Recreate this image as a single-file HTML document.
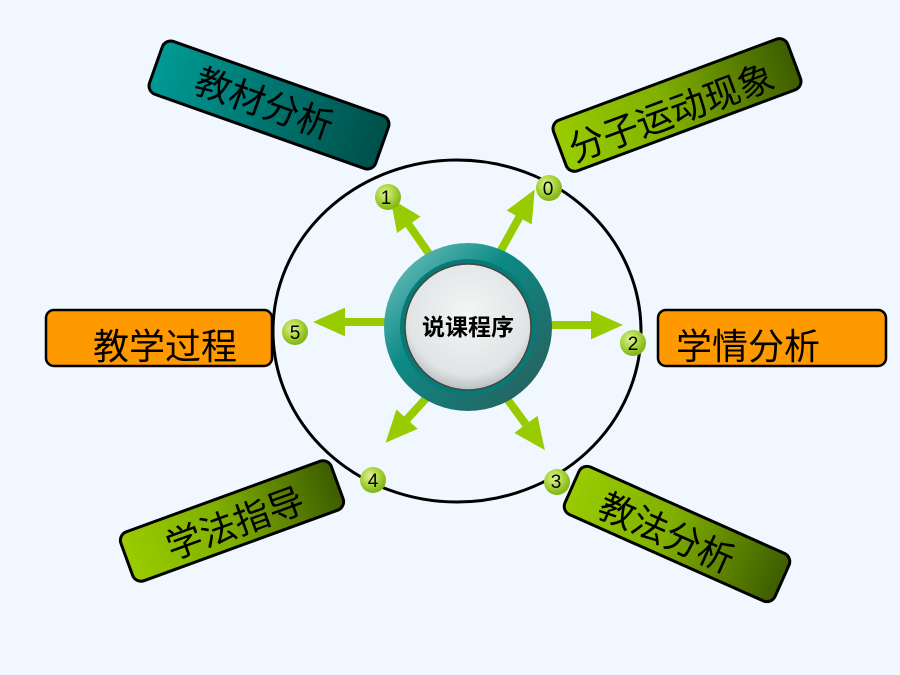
<!DOCTYPE html>
<html><head><meta charset="utf-8"><style>
html,body{margin:0;padding:0;background:#f0f7ff;}
svg{display:block}
text{font-family:"Liberation Sans","Noto Sans CJK SC",sans-serif;}
</style></head><body>
<svg width="900" height="675" viewBox="0 0 900 675" xmlns="http://www.w3.org/2000/svg">
<defs>
<linearGradient id="teal" x1="0" y1="0" x2="1" y2="0"><stop offset="0" stop-color="#009a94"/><stop offset="1" stop-color="#004f4a"/></linearGradient>
<linearGradient id="grn" x1="0" y1="0" x2="1" y2="0"><stop offset="0" stop-color="#99cc00"/><stop offset="0.45" stop-color="#80b000"/><stop offset="1" stop-color="#3d5c00"/></linearGradient>
<linearGradient id="ring" x1="0" y1="0" x2="1" y2="1"><stop offset="0" stop-color="#7cc8c4"/><stop offset="0.4" stop-color="#0c8a85"/><stop offset="1" stop-color="#2c5a58"/></linearGradient>
<radialGradient id="inner" cx="0.5" cy="0.4" r="0.6"><stop offset="0" stop-color="#f4f6f6"/><stop offset="0.8" stop-color="#e0e4e4"/><stop offset="1" stop-color="#b8c0c0"/></radialGradient>
<radialGradient id="ball" cx="0.4" cy="0.35" r="0.6"><stop offset="0" stop-color="#e2f29a"/><stop offset="0.6" stop-color="#a8d43a"/><stop offset="1" stop-color="#86b81a"/></radialGradient>
<marker id="ah" markerWidth="4" markerHeight="4" refX="1.5" refY="2" orient="auto" markerUnits="strokeWidth"><path d="M0,0.2 L4,2 L0,3.8 Z" fill="#99cc00"/></marker>
</defs>

<ellipse cx="457" cy="331" rx="184" ry="171" fill="none" stroke="#000" stroke-width="3"/>

<g stroke="#99cc00" stroke-width="8" fill="none" marker-end="url(#ah)">
<line x1="432" y1="258" x2="402" y2="215"/>
<line x1="500" y1="252" x2="525" y2="207"/>
<line x1="550" y1="325" x2="603" y2="325"/>
<line x1="505" y1="396" x2="533" y2="434"/>
<line x1="430" y1="394" x2="399" y2="428"/>
<line x1="386" y1="322" x2="333" y2="322"/>
</g>

<circle cx="468" cy="327" r="84" fill="url(#ring)"/>
<circle cx="468" cy="327" r="68" fill="#087a76"/>
<circle cx="468" cy="327" r="63" fill="url(#inner)" stroke="#444" stroke-width="1.5"/>
<text x="468" y="335" font-size="23" font-weight="bold" text-anchor="middle" fill="#000">说课程序</text>

<g font-size="19" text-anchor="middle" fill="#000">
<circle cx="388" cy="197" r="13" fill="url(#ball)"/><text x="386" y="204">1</text>
<circle cx="549" cy="188" r="13" fill="url(#ball)"/><text x="548" y="195">0</text>
<circle cx="633" cy="343" r="13" fill="url(#ball)"/><text x="633" y="350">2</text>
<circle cx="557" cy="482" r="13" fill="url(#ball)"/><text x="556" y="488">3</text>
<circle cx="373" cy="480" r="13" fill="url(#ball)"/><text x="373" y="487">4</text>
<circle cx="295" cy="332" r="13" fill="url(#ball)"/><text x="295" y="339">5</text>
</g>

<g font-size="36" fill="#000" stroke="#000">
<g transform="translate(269,105) rotate(19.5)">
<rect x="-120" y="-28" width="240" height="56" rx="9" fill="url(#teal)" stroke-width="3"/>
<text x="-5" y="13" text-anchor="middle" stroke="none">教材分析</text>
</g>
<g transform="translate(677,105) rotate(-20.4)">
<rect x="-125" y="-27" width="250" height="54" rx="9" fill="url(#grn)" stroke-width="3"/>
<text x="-8" y="18" text-anchor="middle" stroke="none">分子运动现象</text>
</g>
<g transform="translate(677,534) rotate(24)">
<rect x="-115" y="-26" width="230" height="52" rx="9" fill="url(#grn)" stroke-width="3"/>
<text x="-10" y="16" text-anchor="middle" stroke="none">教法分析</text>
</g>
<g transform="translate(232,521) rotate(-20)">
<rect x="-112" y="-26" width="224" height="52" rx="9" fill="url(#grn)" stroke-width="3"/>
<text x="2" y="16" text-anchor="middle" stroke="none">学法指导</text>
</g>
<rect x="46" y="310" width="226" height="56" rx="8" fill="#ff9900" stroke-width="2.5"/>
<text x="165" y="359" text-anchor="middle" stroke="none">教学过程</text>
<rect x="658" y="310" width="228" height="56" rx="8" fill="#ff9900" stroke-width="2.5"/>
<text x="748" y="359" text-anchor="middle" stroke="none">学情分析</text>
</g>
</svg>
</body></html>
